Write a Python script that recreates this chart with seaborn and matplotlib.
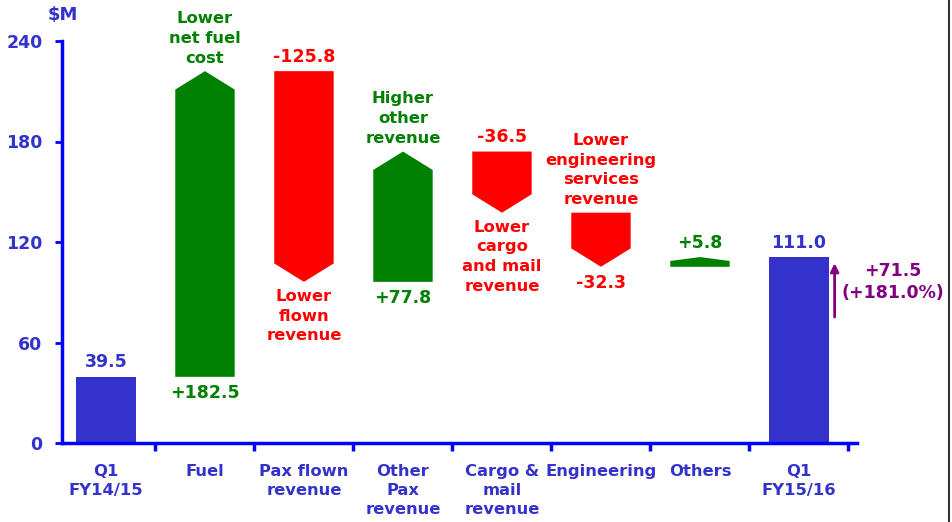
import matplotlib
matplotlib.use("Agg")
import matplotlib.pyplot as plt
from matplotlib.patches import Polygon
from matplotlib.lines import Line2D
import seaborn as sns
import pandas as pd

# data ($M)
categories = ["Q1\nFY14/15", "Fuel", "Pax flown\nrevenue", "Other\nPax\nrevenue",
              "Cargo &\nmail\nrevenue", "Engineering", "Others", "Q1\nFY15/16"]
start_value = 39.5
end_value = 111.0
step_values = [182.5, -125.8, 77.8, -36.5, -32.3, 5.8]
step_notes = ["Lower\nnet fuel\ncost", "Lower\nflown\nrevenue", "Higher\nother\nrevenue",
              "Lower\ncargo\nand mail\nrevenue", "Lower\nengineering\nservices\nrevenue", ""]
note_on_top = [True, False, True, False, True, False]
change_text = "+71.5\n(+181.0%)"
change_arrow = [73.5, 109.0]
y_ticks = [0, 60, 120, 180, 240]

BLUE_TXT = "#3333CC"
AXIS_BLUE = "#0000FF"
GREEN = "#008000"
RED = "#FF0000"
PURPLE = "#800080"

sns.set_theme(style="white")
plt.rcParams["font.family"] = ["DejaVu Sans"]

fig = plt.figure(figsize=(9.52, 5.22), dpi=100)
ax = fig.add_axes([62 / 952, 79 / 522, 795 / 952, 402 / 522])

# total bars with seaborn (categorical positions 0..7)
df_tot = pd.DataFrame({"cat": [categories[0], categories[-1]],
                       "val": [start_value, end_value]})
sns.barplot(data=df_tot, x="cat", y="val", order=categories, width=0.6,
            color=BLUE_TXT, saturation=1, linewidth=0, ax=ax)

def lab(x, y, s, color, up, size=12.5):
    ax.annotate(s, (x, y), xytext=(0, 4 if up else -5), textcoords="offset points",
                ha="center", va="bottom" if up else "top", color=color,
                fontsize=size, fontweight="bold", linespacing=1.4,
                annotation_clip=False)

lab(0, start_value, f"{start_value:.1f}", BLUE_TXT, True)
lab(7, end_value, f"{end_value:.1f}", BLUE_TXT, True)

# arrow-shaped step bars
w = 0.6
base = start_value
for i, v in enumerate(step_values):
    c = i + 1
    l, r = c - w / 2, c + w / 2
    t = base + v
    head = min(11, 0.4 * abs(v))
    if v > 0:
        pts = [(l, base), (r, base), (r, t - head), (c, t), (l, t - head)]
        col = GREEN
    else:
        pts = [(l, base), (r, base), (r, t + head), (c, t), (l, t + head)]
        col = RED
    ax.add_patch(Polygon(pts, closed=True, facecolor=col, edgecolor="none"))
    hi, lo = max(base, t), min(base, t)
    val_txt = f"{v:+.1f}"
    if note_on_top[i]:
        lab(c, hi, step_notes[i], col, True, 11.8)
        lab(c, lo, val_txt, col, False)
    else:
        lab(c, hi, val_txt, col, True)
        if step_notes[i]:
            lab(c, lo, step_notes[i], col, False, 11.8)
    base = t

# overall change arrow
ax.annotate("", xy=(7.36, change_arrow[1]), xytext=(7.36, change_arrow[0]),
            arrowprops=dict(arrowstyle="-|>", color=PURPLE, lw=2, mutation_scale=12),
            annotation_clip=False)
ax.text(7.95, 96, change_text, color=PURPLE, fontsize=12.5, fontweight="bold",
        ha="center", va="center", linespacing=1.3, clip_on=False)

# axes styling
ax.set_xlim(-0.444, 7.586)
ax.set_ylim(0, 240)
ax.set_xlabel("")
ax.set_ylabel("")
for s in ["top", "right"]:
    ax.spines[s].set_visible(False)
for s in ["left", "bottom"]:
    ax.spines[s].set_color(AXIS_BLUE)
    ax.spines[s].set_linewidth(2.5)

ax.set_yticks(y_ticks)
ax.set_yticklabels([str(t) for t in y_ticks], color=BLUE_TXT, fontsize=12.5, fontweight="bold")
ax.tick_params(axis="y", length=5, width=2, color=AXIS_BLUE, direction="out", pad=9, left=True)

ax.set_xticks(range(len(categories)))
ax.set_xticklabels(categories, color=BLUE_TXT, fontsize=11.8, fontweight="bold", linespacing=1.33)
ax.tick_params(axis="x", which="major", length=0, pad=15)
ax.set_xticks([i + 0.5 for i in range(len(categories))], minor=True)
ax.tick_params(axis="x", which="minor", length=6, width=2.5, color=AXIS_BLUE,
               direction="out", bottom=True)

fig.text(63 / 952, 1 - 15 / 522, "$M", color=BLUE_TXT, fontsize=13, fontweight="bold",
         ha="center", va="center")
fig.add_artist(Line2D([949 / 952, 949 / 952], [0, 1], color="#333333", lw=1.5))

fig.savefig("out.png", dpi=100)
